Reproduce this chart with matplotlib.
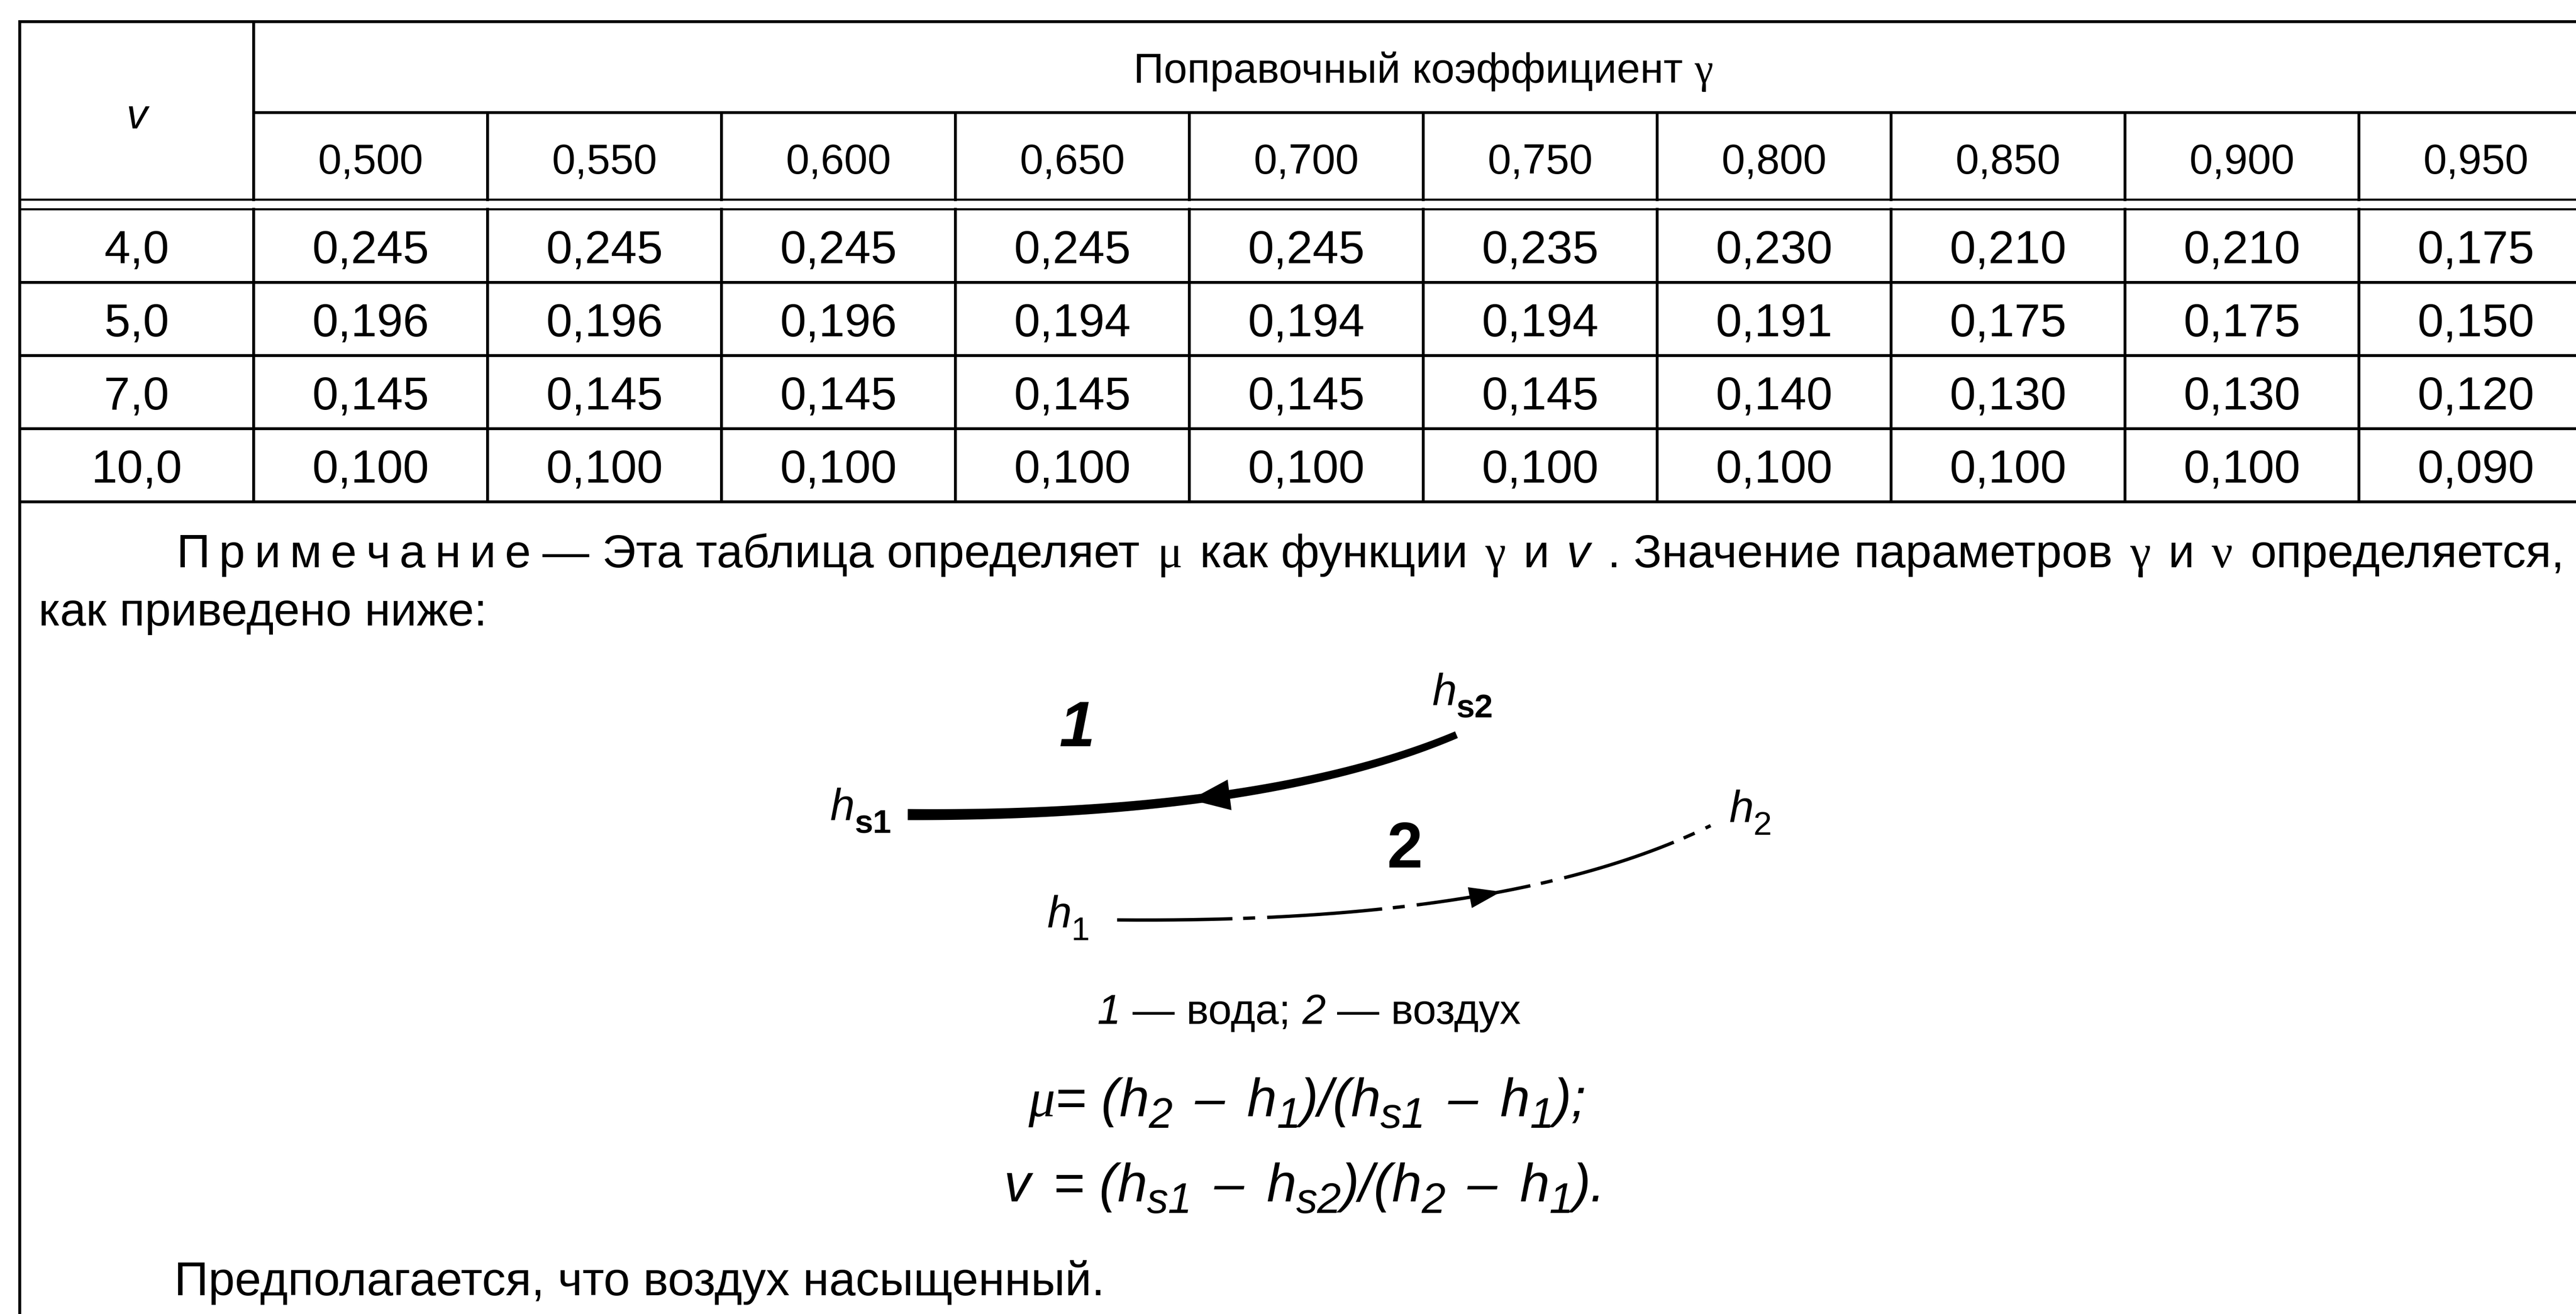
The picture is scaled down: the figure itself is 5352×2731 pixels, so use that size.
import numpy as np
import matplotlib
matplotlib.use("Agg")
import matplotlib.pyplot as plt
from matplotlib.patches import Polygon

# table data
gamma = [0.500, 0.550, 0.600, 0.650, 0.700, 0.750, 0.800, 0.850, 0.900, 0.950]
v_values = [4.0, 5.0, 7.0, 10.0]
mu_v4 = [0.245, 0.245, 0.245, 0.245, 0.245, 0.235, 0.230, 0.210, 0.210, 0.175]
mu_v5 = [0.196, 0.196, 0.196, 0.194, 0.194, 0.194, 0.191, 0.175, 0.175, 0.150]
mu_v7 = [0.145, 0.145, 0.145, 0.145, 0.145, 0.145, 0.140, 0.130, 0.130, 0.120]
mu_v10 = [0.100, 0.100, 0.100, 0.100, 0.100, 0.100, 0.100, 0.100, 0.100, 0.090]
mu_rows = [mu_v4, mu_v5, mu_v7, mu_v10]

title = "Поправочный коэффициент"
note_word = "Примечание"
legend_water = "вода"
legend_air = "воздух"
last_line = "Предполагается, что воздух насыщенный."

W, H = 5352, 2731
SANS = "Liberation Sans"
SERIF = "Liberation Serif"
STY = {
    "r": dict(family=SANS),
    "i": dict(family=SANS, style="italic"),
    "b": dict(family=SANS, weight="bold"),
    "bi": dict(family=SANS, weight="bold", style="italic"),
    "g": dict(family=SERIF),
    "gi": dict(family=SERIF, style="italic"),
}


def fmt(x, d):
    return f"{x:.{d}f}".replace(".", ",")


fig = plt.figure(figsize=(W / 100, H / 100), dpi=100)
ax = fig.add_axes([0, 0, 1, 1])
ax.set_xlim(0, W)
ax.set_ylim(H, 0)
ax.axis("off")
renderer = fig.canvas.get_renderer()


def draw_runs(x, y, parts, size, ha="left", sub_scale=0.75, sub_dy=0.24, space=1.0):
    """parts: (text, style, is_sub[, extra_gap_px]). Leading/trailing blanks are
    added by hand since the text extent does not count them."""
    em = size * 100 / 72
    items = []
    for p in parts:
        text, st, sub = p[:3]
        extra = p[3] if len(p) > 3 else 0
        fs = size * (sub_scale if sub else 1.0)
        lead = len(text) - len(text.lstrip(" "))
        trail = len(text) - len(text.rstrip(" "))
        core = text.strip(" ")
        t = ax.text(0, 0, core, fontsize=fs, va="baseline", ha="left", **STY[st])
        w = t.get_window_extent(renderer).width if core else 0
        sp = 0.278 * fs * 100 / 72 * space
        items.append((t, lead * sp, w, trail * sp + extra, em * sub_dy if sub else 0))
    total = sum(a + b + c for _, a, b, c, _ in items)
    if ha == "center":
        cx = x - total / 2
    elif ha == "right":
        cx = x - total
    else:
        cx = x
    for t, a, w, b, dy in items:
        cx += a
        t.set_position((cx, y + dy))
        cx += w + b
    return cx


# ---- table grid
x_left, x_c0 = 41, 527
col_w = 486
x_end = x_c0 + col_w * len(gamma)
y_top, y_title, y_h1, y_h2 = 45, 234, 415, 435
row_h = 152
row_bottoms = [y_h2 + row_h * (k + 1) for k in range(len(v_values))]
y_bottom = row_bottoms[-1]
lw = 4.3

hl = dict(color="black", lw=lw, solid_capstyle="projecting")
ax.plot([x_left, x_end], [y_top, y_top], **hl)
ax.plot([x_c0, x_end], [y_title, y_title], **hl)
ax.plot([x_left, x_end], [y_h1, y_h1], color="black", lw=3.2)
ax.plot([x_left, x_end], [y_h2, y_h2], color="black", lw=3.2)
for yb in row_bottoms:
    ax.plot([x_left, x_end], [yb, yb], **hl)
ax.plot([x_left, x_left], [y_top, H + 10], **hl)
ax.plot([x_c0, x_c0], [y_top, y_h1], **hl)
ax.plot([x_c0, x_c0], [y_h2, y_bottom], **hl)
for k in range(1, len(gamma)):
    xk = x_c0 + col_w * k
    ax.plot([xk, xk], [y_title, y_h1], **hl)
    ax.plot([xk, xk], [y_h2, y_bottom], **hl)

# ---- table text
head_fs = 63
body_fs = 70
draw_runs((x_c0 + x_end) / 2, 172, [(title + " ", "r", False), ("γ", "g", False)], head_fs, ha="center")
ax.text((x_left + x_c0) / 2, 267, "v", fontsize=head_fs, ha="center", va="baseline", **STY["i"])
for k, g in enumerate(gamma):
    ax.text(x_c0 + col_w * (k + 0.5), 361, fmt(g, 3), fontsize=head_fs,
            ha="center", va="baseline", **STY["r"])
for r, (v, row) in enumerate(zip(v_values, mu_rows)):
    yb = y_h2 + row_h * r + row_h / 2 + 35
    ax.text((x_left + x_c0) / 2, yb, fmt(v, 1), fontsize=body_fs,
            ha="center", va="baseline", **STY["r"])
    for k, m in enumerate(row):
        ax.text(x_c0 + col_w * (k + 0.5), yb, fmt(m, 3), fontsize=body_fs,
                ha="center", va="baseline", **STY["r"])

# ---- note (spaced-out word first, then the rest of the justified line)
note_fs = 70
spaced = [(ch, "r", False, 19) for ch in note_word]
spaced[-1] = (note_word[-1], "r", False, 24)
draw_runs(366, 1179, spaced + [
    ("— Эта таблица определяет ", "r", False), ("μ", "g", False),
    (" как функции ", "r", False), ("γ", "g", False), (" и ", "r", False),
    ("v", "i", False), (" . Значение параметров ", "r", False), ("γ", "g", False),
    (" и ", "r", False), ("ν", "g", False), (" определяется,", "r", False),
], note_fs, space=1.34)
ax.text(80, 1300, "как приведено ниже:", fontsize=note_fs, va="baseline", **STY["r"])
ax.text(362, 2692, last_line, fontsize=71, va="baseline", **STY["r"])


# ---- diagram
def bezier(p0, p1, p2, p3, n=200):
    t = np.linspace(0, 1, n)[:, None]
    pts = [np.array(p, float) for p in (p0, p1, p2, p3)]
    return ((1 - t) ** 3 * pts[0] + 3 * (1 - t) ** 2 * t * pts[1]
            + 3 * (1 - t) * t ** 2 * pts[2] + t ** 3 * pts[3])


def arrow_head(curve, idx, length, width, forward=True):
    tip = curve[idx]
    d = curve[idx + 1] - curve[idx - 1]
    d = d / np.hypot(*d)
    if not forward:
        d = -d
    nrm = np.array([-d[1], d[0]])
    base = tip - d * length
    ax.add_patch(Polygon([tip, base + nrm * width / 2, base - nrm * width / 2],
                         closed=True, color="black", lw=0))


def tapered(curve, w0, w1):
    d = np.gradient(curve, axis=0)
    d /= np.hypot(d[:, 0], d[:, 1])[:, None]
    nrm = np.column_stack([-d[:, 1], d[:, 0]])
    hw = np.linspace(w0, w1, len(curve))[:, None] / 2
    poly = np.vstack([curve + nrm * hw, (curve - nrm * hw)[::-1]])
    ax.add_patch(Polygon(poly, closed=True, color="black", lw=0))


water = bezier((1886, 1693), (2250, 1695), (2700, 1665), (3026, 1527))
tapered(water, 23, 15)
arrow_head(water, 100, 82, 64, forward=False)

air = bezier((2321, 1912), (2700, 1915), (3200, 1890), (3554, 1716))
ax.plot(air[:, 0], air[:, 1], color="black", lw=5.0,
        linestyle=(0, (34.5, 3.2, 3.6, 3.6)), dash_capstyle="butt")
arrow_head(air, 126, 66, 44, forward=True)

lab_fs = 66
draw_runs(1852, 1703, [("h", "i", False), ("s1", "b", True)], lab_fs, ha="right", sub_dy=0.3)
draw_runs(2975, 1464, [("h", "i", False), ("s2", "b", True)], lab_fs, sub_dy=0.3)
draw_runs(2175, 1926, [("h", "i", False), ("1", "r", True)], lab_fs, sub_dy=0.3)
draw_runs(3592, 1707, [("h", "i", False), ("2", "r", True)], lab_fs, sub_dy=0.3)
ax.text(2238, 1551, "1", fontsize=96, ha="center", va="baseline", **STY["bi"])
ax.text(2919, 1803, "2", fontsize=96, ha="center", va="baseline", **STY["b"])

draw_runs(2720, 2128, [("1", "i", False), (" — " + legend_water + "; ", "r", False),
                       ("2", "i", False), (" — " + legend_air, "r", False)], 63, ha="center")

form_fs = 80
fkw = dict(sub_scale=0.8, sub_dy=0.22, space=1.5)
draw_runs(2716, 2320, [
    ("μ", "gi", False), ("= (", "i", False), ("h", "i", False), ("2", "i", True),
    (" – ", "i", False), ("h", "i", False), ("1", "i", True), (")/(", "i", False),
    ("h", "i", False), ("s1", "i", True), (" – ", "i", False), ("h", "i", False),
    ("1", "i", True), (");", "i", False),
], form_fs, ha="center", **fkw)
draw_runs(2711, 2497, [
    ("v", "i", False), (" = (", "i", False), ("h", "i", False), ("s1", "i", True),
    (" – ", "i", False), ("h", "i", False), ("s2", "i", True), (")/(", "i", False),
    ("h", "i", False), ("2", "i", True), (" – ", "i", False), ("h", "i", False),
    ("1", "i", True), (").", "i", False),
], form_fs, ha="center", **fkw)

fig.savefig("out.png", dpi=100, facecolor="white")
